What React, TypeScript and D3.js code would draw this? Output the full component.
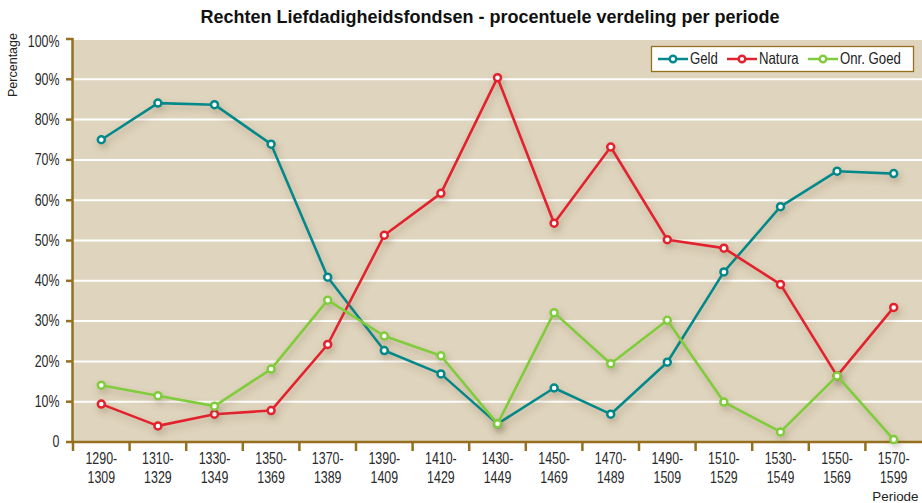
import React from "react";
import * as d3 from "d3";

const periods = ["1290-1309","1310-1329","1330-1349","1350-1369","1370-1389","1390-1409","1410-1429","1430-1449","1450-1469","1470-1489","1490-1509","1510-1529","1530-1549","1550-1569","1570-1599"];
const geld = [75, 84.1, 83.7, 73.9, 40.9, 22.7, 16.9, 4.5, 13.4, 6.9, 19.8, 42.2, 58.4, 67.2, 66.6];
const natura = [9.4, 4.0, 6.9, 7.8, 24.2, 51.3, 61.7, 90.4, 54.3, 73.2, 50.2, 48.1, 39.1, 16.4, 33.4];
const onrGoed = [14.1, 11.5, 8.9, 18.1, 35.2, 26.3, 21.4, 4.5, 32.1, 19.4, 30.2, 9.9, 2.5, 16.4, 0.6];
const yTicks = [0, 10, 20, 30, 40, 50, 60, 70, 80, 90, 100];
const seriesNames = ["Geld", "Natura", "Onr. Goed"];
const seriesColors = ["#05898a", "#e2222e", "#80cc3e"];

const W = 922, H = 503;
const M = { left: 73, right: 922, top: 39, bottom: 442 };
const sans = "'Liberation Sans', Arial, sans-serif";
const axisColor = "#94701f";

function CText(props: { x: number; y: number; size: number; sx?: number; anchor?: string; fill?: string; children: React.ReactNode }) {
  const { x, y, size, sx = 0.775, anchor = "start", fill = "#2a2a2a", children } = props;
  return (
    <text transform={`translate(${x},${y}) scale(${sx},1)`} textAnchor={anchor as any} fontFamily={sans} fontSize={size} fill={fill}>
      {children}
    </text>
  );
}

export default function App() {
  const x = d3.scaleBand<string>().domain(periods).range([M.left, M.right]);
  const y = d3.scaleLinear().domain([0, 100]).range([M.bottom, M.top]);
  const cx = (i: number) => (x(periods[i]) as number) + x.bandwidth() / 2;
  const line = d3.line<number>().x((_, i) => cx(i)).y((d) => y(d));
  const allSeries = [geld, natura, onrGoed];
  const legendX = [658, 727, 808];

  return (
    <div style={{ position: "fixed", left: 0, top: 0, width: W, height: H, background: "#fff" }}>
      <svg width={W} height={H} style={{ display: "block" }}>
        <defs>
          <filter id="sh" x="-10%" y="-10%" width="120%" height="130%">
            <feDropShadow dx="2" dy="4" stdDeviation="3.5" floodColor="#6b5a3a" floodOpacity="0.35" />
          </filter>
        </defs>
        <text x={490} y={23} textAnchor="middle" fontFamily={sans} fontWeight="bold" fontSize={18} fill="#111">
          Rechten Liefdadigheidsfondsen - procentuele verdeling per periode
        </text>
        <rect x={M.left} y={M.top} width={M.right - M.left} height={M.bottom - M.top} fill="#dfd4bd" />
        {yTicks.filter((t) => t > 0).map((t) => (
          <line key={t} x1={M.left} x2={M.right} y1={y(t)} y2={y(t)} stroke="#fff" strokeWidth={2} />
        ))}
        {/* y axis */}
        <line x1={M.left - 0.5} x2={M.left - 0.5} y1={M.top - 1} y2={M.bottom + 1} stroke={axisColor} strokeWidth={2.5} />
        {yTicks.map((t) => (
          <g key={t}>
            <line x1={66} x2={M.left} y1={y(t)} y2={y(t)} stroke={axisColor} strokeWidth={2.5} />
            <CText x={59.5} y={y(t) + (t === 100 ? 7.7 : 5.3)} size={16} anchor="end">
              {t === 0 ? "0" : `${t}%`}
            </CText>
          </g>
        ))}
        {/* x axis */}
        <line x1={M.left - 1} x2={M.right} y1={M.bottom} y2={M.bottom} stroke={axisColor} strokeWidth={2.5} />
        {periods.map((p, i) => {
          const bx = x(p) as number;
          const [a, b] = p.split("-");
          return (
            <g key={p}>
              <line x1={bx} x2={bx} y1={M.bottom} y2={M.bottom + 9} stroke={axisColor} strokeWidth={2.5} />
              <CText x={cx(i)} y={464} size={16} anchor="middle">{a + "-"}</CText>
              <CText x={cx(i)} y={482.5} size={16} anchor="middle">{b}</CText>
            </g>
          );
        })}
        <text x={918.5} y={501} textAnchor="end" fontFamily={sans} fontSize={13.4} fill="#222">Periode</text>
        <text transform="translate(16.5,65) rotate(-90)" textAnchor="middle" fontFamily={sans} fontSize={12.5} fill="#222">Percentage</text>
        {/* series */}
        {allSeries.map((s, si) => (
          <g key={si} filter="url(#sh)">
            <path d={line(s) as string} fill="none" stroke={seriesColors[si]} strokeWidth={2.6} strokeLinejoin="round" />
            {s.map((v, i) => (
              <circle key={i} cx={cx(i)} cy={y(v)} r={3.5} fill="#fff" stroke={seriesColors[si]} strokeWidth={2.5} />
            ))}
          </g>
        ))}
        {/* legend */}
        <rect x={651.5} y={46.5} width={262} height={25} fill="#fff" stroke={axisColor} strokeWidth={1.3} />
        {seriesNames.map((n, i) => (
          <g key={n}>
            <line x1={legendX[i]} x2={legendX[i] + 30} y1={59} y2={59} stroke={seriesColors[i]} strokeWidth={2.5} />
            <circle cx={legendX[i] + 15} cy={59} r={3.3} fill="#fff" stroke={seriesColors[i]} strokeWidth={2.4} />
            <CText x={legendX[i] + 32} y={64.3} size={16.5} sx={0.8} fill="#222">{n}</CText>
          </g>
        ))}
      </svg>
    </div>
  );
}
